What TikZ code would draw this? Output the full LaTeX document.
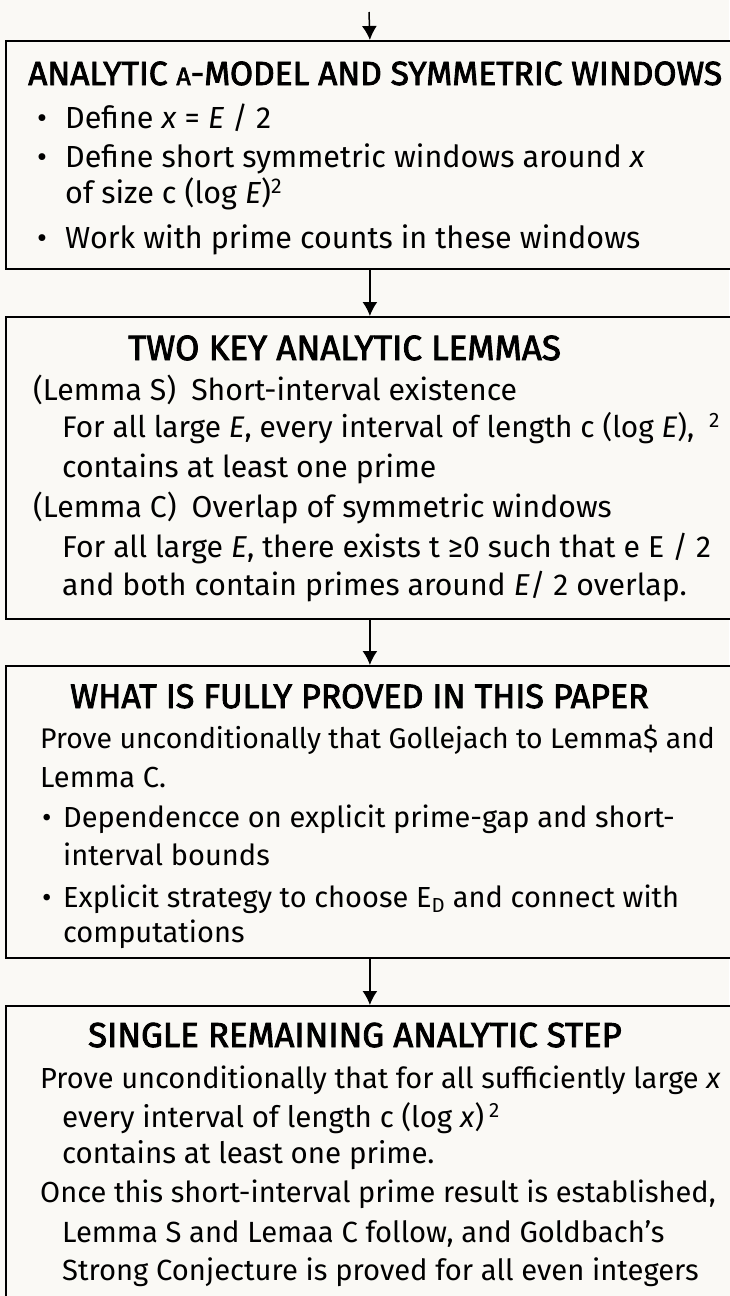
\documentclass[tikz,border=0pt]{standalone}
\usepackage{fontspec}
\setmainfont{Fira Sans}
\newfontfamily\headfont[FakeBold=2.5]{Fira Sans}
\usetikzlibrary{arrows.meta}

\definecolor{paper}{HTML}{FAF9F5}

\tikzset{
  stagebox/.style={draw, line width=1.8pt, fill=paper, rectangle, anchor=north west,
    minimum width=728pt, inner sep=0pt},
  head/.style={anchor=base west, inner sep=0pt, font=\headfont\fontsize{#1}{#1}\selectfont},
  txt/.style={anchor=base west, inner sep=0pt, font=\fontsize{#1}{#1}\selectfont},
  flow/.style={-{Latex[length=14pt,width=15pt]}, line width=1.5pt}
}

\begin{document}
\begin{tikzpicture}[x=1pt,y=-1pt]
  \useasboundingbox[fill=paper] (0,0) rectangle (729,1296);

  \node[stagebox, minimum height=228pt] (B1) at (5,40) {};
  \node[stagebox, minimum height=302pt] (B2) at (5,316) {};
  \node[stagebox, minimum height=292pt] (B3) at (5,665) {};
  \node[stagebox, minimum height=340pt] (B4) at (5,1005) {};

  \coordinate (top) at (369,12);
  \draw[flow] (top) -- (B1.north);
  \draw[flow] (B1) -- (B2);
  \draw[flow] (B2) -- (B3);
  \draw[flow] (B3) -- (B4);

  % analytic model
  \node[head=33.5] (h1) at (28,85) {ANALYTIC {\fontsize{25}{25}\selectfont A}-MODEL AND SYMMETRIC WINDOWS};
  \node[txt=30.5] (d1) at (37,128) {•};
  \node[txt=30.5] (a1) at (65,128) {Define \textit{x} = \textit{E} / 2};
  \node[txt=30.5] (d2) at (37,167) {•};
  \node[txt=30.5] (a2) at (65,167) {Define short symmetric windows around \textit{x}};
  \node[txt=30.5] (a3) at (65,203) {of size c (log \textit{E})\textsuperscript{2}};
  \node[txt=30.5] (d3) at (37,248) {•};
  \node[txt=30.5] (a4) at (65,248) {Work with prime counts in these windows};

  % two lemmas
  \node[head=35] (h2) at (128,360) {TWO KEY ANALYTIC LEMMAS};
  \node[txt=30.2] (b1) at (33,400) {(Lemma S)\enspace Short-interval existence};
  \node[txt=29.8] (b2) at (62,437) {For all large \textit{E}, every interval of length c (log \textit{E}),\enspace\textsuperscript{2}};
  \node[txt=30.2] (b3) at (62,477) {contains at least one prime};
  \node[txt=30.2] (b4) at (33,517) {(Lemma C)\enspace Overlap of symmetric windows};
  \node[txt=30.2] (b5) at (62,557) {For all large \textit{E}, there exists t ≥0 such that e E / 2};
  \node[txt=30.2] (b6) at (62,595) {and both contain primes around \textit{E}/ 2 overlap.};

  % fully proved
  \node[head=34] (h3) at (70,708) {WHAT IS FULLY PROVED IN THIS PAPER};
  \node[txt=28.4] (c1) at (40,748) {Prove unconditionally that Gollejach to Lemma\$ and};
  \node[txt=29] (c2) at (40,787) {Lemma C.};
  \node[txt=29] (e1) at (42,827) {•};
  \node[txt=29] (c3) at (63,827) {Dependencce on explicit prime-gap and short-};
  \node[txt=29] (c4) at (63,865) {interval bounds};
  \node[txt=29] (e2) at (42,907) {•};
  \node[txt=29] (c5) at (63,907) {Explicit strategy to choose E\textsubscript{D} and connect with};
  \node[txt=29] (c6) at (63,942) {computations};

  % remaining step
  \node[head=34.7] (h4) at (88,1047) {SINGLE REMAINING ANALYTIC STEP};
  \node[txt=29] (r1) at (40,1088) {Prove unconditionally that for all sufficiently large \textit{x}};
  \node[txt=29.5] (r2) at (62,1127) {every interval of length c (log \textit{x})\,\textsuperscript{2}};
  \node[txt=29.5] (r3) at (62,1163) {contains at least one prime.};
  \node[txt=29] (r4) at (40,1202) {Once this short-interval prime result is established,};
  \node[txt=29.2] (r5) at (62,1242) {Lemma S and Lemaa C follow, and Goldbach’s};
  \node[txt=29.2] (r6) at (62,1280) {Strong Conjecture is proved for all even integers};
\end{tikzpicture}
\end{document}
